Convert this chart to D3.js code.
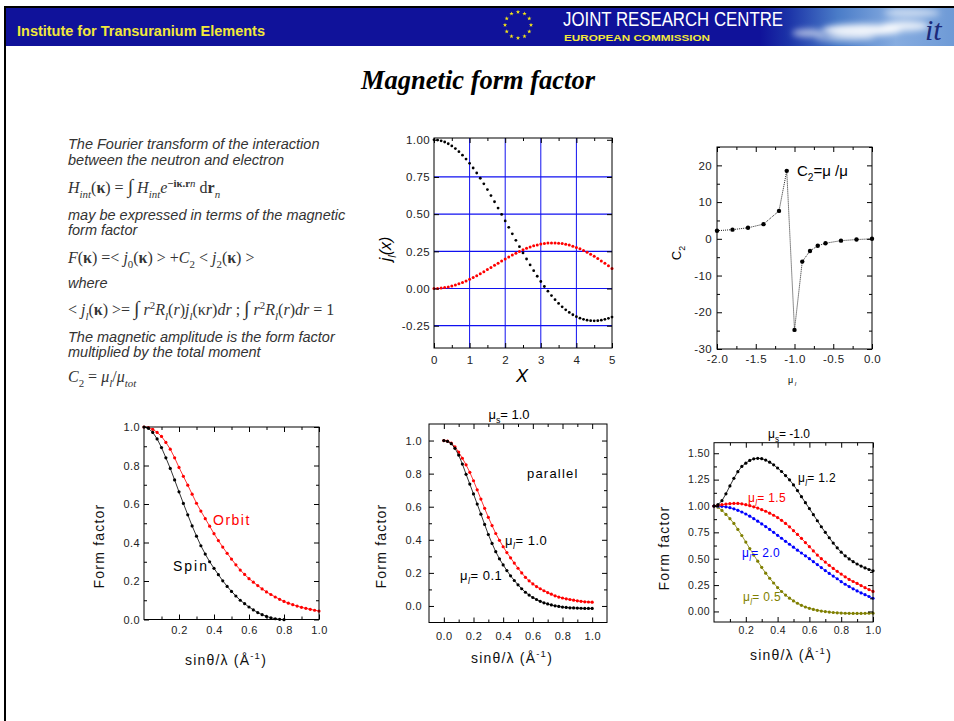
<!DOCTYPE html>
<html>
<head>
<meta charset="utf-8">
<script src="https://cdn.jsdelivr.net/npm/d3@7"></script>
<style>
  body { margin: 0; background: #fff; }
  #slide { width: 954px; height: 721px; }
</style>
</head>
<body>
<div id="slide"></div>
<script>
// ---- data ----

// top middle: spherical Bessel functions j0, j2
const X_J = [0,0.1,0.2,0.3,0.4,0.5,0.6,0.7,0.8,0.9,1.0,1.1,1.2,1.3,1.4,1.5,1.6,1.7,1.8,1.9,2.0,2.1,2.2,2.3,2.4,2.5,2.6,2.7,2.8,2.9,3.0,3.1,3.2,3.3,3.4,3.5,3.6,3.7,3.8,3.9,4.0,4.1,4.2,4.3,4.4,4.5,4.6,4.7,4.8,4.9,5.0];
const J0 = [1.0000,0.9983,0.9933,0.9851,0.9735,0.9589,0.9411,0.9203,0.8967,0.8704,0.8415,0.8102,0.7767,0.7412,0.7039,0.6650,0.6247,0.5833,0.5410,0.4981,0.4546,0.4111,0.3675,0.3242,0.2814,0.2394,0.1983,0.1583,0.1196,0.0825,0.0470,0.0134,-0.0182,-0.0478,-0.0752,-0.1002,-0.1229,-0.1432,-0.1610,-0.1764,-0.1892,-0.1996,-0.2075,-0.2131,-0.2163,-0.2172,-0.2160,-0.2127,-0.2075,-0.2005,-0.1918];
const J2 = [0,0.0007,0.0027,0.0060,0.0106,0.0164,0.0234,0.0315,0.0408,0.0510,0.0620,0.0739,0.0865,0.0997,0.1133,0.1273,0.1416,0.1559,0.1703,0.1845,0.1985,0.2120,0.2251,0.2375,0.2492,0.2601,0.2700,0.2789,0.2867,0.2933,0.2986,0.3027,0.3054,0.3067,0.3066,0.3050,0.3021,0.2977,0.2919,0.2848,0.2763,0.2666,0.2556,0.2435,0.2304,0.2163,0.2013,0.1855,0.1691,0.1522,0.1347];

// top right: C2 versus mu_l
const MU_L = [-2.0,-1.8,-1.6,-1.4,-1.2,-1.1,-1.0,-0.9,-0.8,-0.7,-0.6,-0.4,-0.2,0.0];
const C2 = [2.2,2.5,3.0,4.0,7.6,18.5,-24.8,-6.2,-3.3,-1.9,-1.2,-0.5,-0.2,0.0];

// bottom row: form factors vs sin(theta)/lambda
const S = [0,0.025,0.05,0.075,0.1,0.125,0.15,0.175,0.2,0.225,0.25,0.275,0.3,0.325,0.35,0.375,0.4,0.425,0.45,0.475,0.5,0.525,0.55,0.575,0.6,0.625,0.65,0.675,0.7,0.725,0.75,0.775,0.8,0.825,0.85,0.875,0.9,0.925,0.95,0.975,1.0];
const SPIN = [1.000,0.993,0.972,0.938,0.893,0.840,0.785,0.725,0.663,0.603,0.544,0.486,0.433,0.383,0.340,0.300,0.266,0.233,0.201,0.172,0.146,0.122,0.100,0.082,0.065,0.050,0.036,0.025,0.016,0.009,0.004,0.001,-0.001];
const ORBIT = [1.000,0.997,0.988,0.972,0.951,0.920,0.885,0.840,0.790,0.744,0.698,0.651,0.604,0.563,0.524,0.485,0.446,0.410,0.376,0.344,0.314,0.284,0.257,0.234,0.212,0.194,0.176,0.159,0.143,0.130,0.117,0.105,0.094,0.085,0.077,0.070,0.063,0.058,0.053,0.048,0.044];
const PAR_MU01 = [1.000,0.995,0.981,0.953,0.912,0.858,0.796,0.737,0.677,0.616,0.555,0.493,0.432,0.378,0.328,0.285,0.248,0.214,0.182,0.154,0.128,0.104,0.083,0.066,0.051,0.039,0.028,0.019,0.012,0.006,0.001,-0.003,-0.007,-0.009,-0.011,-0.012,-0.013,-0.014,-0.015,-0.015,-0.015];
const PAR_MU10 = [1.000,0.996,0.985,0.962,0.930,0.893,0.853,0.808,0.757,0.702,0.646,0.590,0.536,0.486,0.438,0.397,0.358,0.323,0.291,0.259,0.228,0.200,0.173,0.152,0.133,0.117,0.104,0.092,0.081,0.071,0.061,0.054,0.048,0.043,0.039,0.035,0.031,0.028,0.025,0.024,0.023];
const ANTI_MU12 = [1.000,1.013,1.050,1.115,1.190,1.262,1.325,1.375,1.406,1.432,1.447,1.452,1.449,1.435,1.415,1.390,1.360,1.327,1.288,1.248,1.200,1.146,1.088,1.031,0.975,0.918,0.860,0.803,0.750,0.699,0.648,0.603,0.562,0.527,0.498,0.472,0.450,0.430,0.413,0.398,0.386];
const ANTI_MU15 = [1.000,1.006,1.012,1.018,1.022,1.024,1.024,1.020,1.012,1.003,0.992,0.980,0.965,0.950,0.932,0.912,0.890,0.864,0.835,0.802,0.766,0.730,0.693,0.653,0.614,0.574,0.535,0.500,0.468,0.437,0.408,0.380,0.354,0.328,0.304,0.284,0.266,0.245,0.225,0.207,0.190];
const ANTI_MU20 = [1.000,0.999,0.997,0.992,0.984,0.973,0.959,0.943,0.924,0.903,0.880,0.856,0.830,0.805,0.778,0.750,0.722,0.694,0.665,0.637,0.609,0.581,0.554,0.527,0.500,0.472,0.444,0.416,0.388,0.361,0.335,0.310,0.282,0.258,0.236,0.215,0.195,0.176,0.159,0.142,0.125];
const ANTI_MU05 = [1.000,0.988,0.958,0.920,0.880,0.835,0.778,0.720,0.658,0.596,0.535,0.477,0.418,0.363,0.315,0.270,0.226,0.189,0.155,0.126,0.100,0.078,0.058,0.042,0.030,0.019,0.011,0.004,-0.001,-0.006,-0.010,-0.013,-0.015,-0.017,-0.018,-0.019,-0.019,-0.019,-0.018,-0.017,-0.016];

// tick values
const TICKS_J_X = [0,1,2,3,4,5];
const TICKS_J_XMINOR = [0.5,1.5,2.5,3.5,4.5];
const TICKS_J_Y = [-0.25,0,0.25,0.5,0.75,1.0];
const TICKS_C2_X = [-2.0,-1.5,-1.0,-0.5,0.0];
const TICKS_C2_XMINOR = [-1.75,-1.25,-0.75,-0.25];
const TICKS_C2_Y = [-30,-20,-10,0,10,20];
const TICKS_C2_YMINOR = [-25,-15,-5,5,15,25];
const TICKS_FF_X = [0.2,0.4,0.6,0.8,1.0];
const TICKS_FF_XMINOR = [0.1,0.3,0.5,0.7,0.9];
const TICKS_FF_Y = [0,0.2,0.4,0.6,0.8,1.0];
const TICKS_FF_YMINOR = [0.1,0.3,0.5,0.7,0.9];
const TICKS_PAR_X = [0,0.2,0.4,0.6,0.8,1.0];
const TICKS_PAR_XMINOR = [0.1,0.3,0.5,0.7,0.9];
const TICKS_PAR_YMINOR = [0.1,0.3,0.5,0.7,0.9];
const TICKS_ANTI_Y = [0,0.25,0.5,0.75,1.0,1.25,1.5];
const TICKS_ANTI_YMINOR = [0.125,0.375,0.625,0.875,1.125,1.375];

const SANS = "'Liberation Sans', Arial, sans-serif";
const SERIF = "'Liberation Serif', 'Times New Roman', serif";

// plain hyphen minus like the original plotting program
const fmt = spec => d => d3.format(spec)(d).replace("\u2212", "-");

const svg = d3.select("#slide").append("svg")
    .attr("width", 954)
    .attr("height", 721);

// text with sub / superscripts
function rich(parent, x, y, parts, base) {
    const fs = base.size;
    const t = parent.append("text")
        .attr("x", x).attr("y", y)
        .style("font-family", base.family || SANS)
        .style("font-size", fs + "px")
        .style("fill", base.color || "#000");
    if (base.italic) t.style("font-style", "italic");
    if (base.bold) t.style("font-weight", "bold");
    if (base.anchor) t.attr("text-anchor", base.anchor);
    if (base.spacing) t.style("letter-spacing", base.spacing + "px");
    if (base.rotate) t.attr("transform", `rotate(-90,${x},${y})`);
    let cur = 0;
    parts.forEach(p => {
        if (typeof p === "string") p = {t: p};
        const shift = p.sub ? fs * 0.3 : p.sup ? -fs * 0.4 : 0;
        const ts = t.append("tspan").attr("dy", shift - cur).text(p.t);
        cur = shift;
        if (p.sub || p.sup) ts.style("font-size", (fs * 0.68) + "px");
        if (p.i) ts.style("font-style", "italic");
        if (p.n) ts.style("font-style", "normal");
        if (p.b) ts.style("font-weight", "bold");
        if (p.big) ts.style("font-size", (fs * 1.25) + "px");
    });
    return t;
}

// ---- header ----
const defs = svg.append("defs");
const sky = defs.append("linearGradient").attr("id", "sky")
    .attr("x1", "0%").attr("x2", "100%").attr("y1", "0%").attr("y2", "0%");
[[0, "#10129a"], [0.15, "#1c34a8"], [0.4, "#4a7cc8"], [0.7, "#86ace0"], [1, "#6e9ad6"]]
    .forEach(s => sky.append("stop").attr("offset", s[0]).attr("stop-color", s[1]));
defs.append("filter").attr("id", "blur").append("feGaussianBlur").attr("stdDeviation", 3);

svg.append("rect").attr("x", 5).attr("y", 8).attr("width", 949).attr("height", 38).attr("fill", "#10129a");
svg.append("rect").attr("x", 760).attr("y", 8).attr("width", 194).attr("height", 38).attr("fill", "url(#sky)");
const clouds = svg.append("g").attr("filter", "url(#blur)");
[[808, 33, 16, 4, 0.6], [862, 30, 40, 6, 0.9], [905, 26, 24, 5, 0.8], [912, 13, 28, 4, 0.6], [845, 38, 30, 3, 0.6]]
    .forEach(c => clouds.append("ellipse").attr("cx", c[0]).attr("cy", c[1])
        .attr("rx", c[2]).attr("ry", c[3]).attr("fill", "#ffffff").attr("opacity", c[4]));
svg.append("rect").attr("x", 4).attr("y", 6).attr("width", 950).attr("height", 2).attr("fill", "#000");
svg.append("rect").attr("x", 4).attr("y", 6).attr("width", 2).attr("height", 715).attr("fill", "#000");

svg.append("text").attr("x", 17).attr("y", 36)
    .attr("textLength", 248).attr("lengthAdjust", "spacingAndGlyphs")
    .style("font-family", SANS).style("font-size", "14.5px").style("font-weight", "bold")
    .style("fill", "#f2e83a").text("Institute for Transuranium Elements");

// EU star ring
const star = d3.symbol().type(d3.symbolStar).size(6);
d3.range(12).forEach(i => {
    const a = i * Math.PI / 6;
    svg.append("path").attr("d", star)
        .attr("transform", `translate(${518 + 13 * Math.sin(a)},${25 - 13 * Math.cos(a)})`)
        .attr("fill", "#f5e616");
});

svg.append("text").attr("x", 563).attr("y", 26)
    .attr("textLength", 220).attr("lengthAdjust", "spacingAndGlyphs")
    .style("font-family", SANS).style("font-size", "20px")
    .style("fill", "#ffffff").text("JOINT RESEARCH CENTRE");
svg.append("text").attr("x", 564).attr("y", 41)
    .attr("textLength", 146).attr("lengthAdjust", "spacingAndGlyphs")
    .style("font-family", SANS).style("font-size", "9.5px").style("font-weight", "bold")
    .style("fill", "#f2e83a").text("EUROPEAN COMMISSION");
svg.append("text").attr("x", 925).attr("y", 40)
    .style("font-family", SERIF).style("font-size", "30px").style("font-style", "italic")
    .style("fill", "#1b2a7a").text("it");

// ---- title ----
svg.append("text").attr("x", 478).attr("y", 89).attr("text-anchor", "middle")
    .style("font-family", SERIF).style("font-size", "26.5px")
    .style("font-weight", "bold").style("font-style", "italic")
    .text("Magnetic form factor");

// ---- explanatory text ----
const txt = svg.append("g");
const prose = {size: 14.5, italic: true, color: "#333"};
const math = {size: 16, family: SERIF, color: "#333"};
rich(txt, 68, 149, ["The Fourier transform of the interaction"], prose);
rich(txt, 68, 165, ["between the neutron and electron"], prose);
rich(txt, 68, 193, [{t: "H", i: 1}, {t: "int", i: 1, sub: 1}, "(", {t: "κ", b: 1}, ") = ", {t: "∫", big: 1}, " ",
    {t: "H", i: 1}, {t: "int", i: 1, sub: 1}, {t: "e", i: 1}, {t: "−iκ.r", b: 1, sup: 1}, {t: "n", sup: 1, i: 1},
    " d", {t: "r", b: 1}, {t: "n", i: 1, sub: 1}], math);
rich(txt, 68, 220, ["may be expressed in terms of the magnetic"], prose);
rich(txt, 68, 235, ["form factor"], prose);
rich(txt, 68, 263, [{t: "F", i: 1}, "(", {t: "κ", b: 1}, ") =< ", {t: "j", i: 1}, {t: "0", sub: 1}, "(", {t: "κ", b: 1},
    ") > +", {t: "C", i: 1}, {t: "2", sub: 1}, " < ", {t: "j", i: 1}, {t: "2", sub: 1}, "(", {t: "κ", b: 1}, ") >"], math);
rich(txt, 68, 288, ["where"], prose);
rich(txt, 68, 315, ["< ", {t: "j", i: 1}, {t: "l", i: 1, sub: 1}, "(", {t: "κ", b: 1}, ") >= ", {t: "∫", big: 1}, " ", {t: "r", i: 1}, {t: "2", sup: 1},
    {t: "R", i: 1}, {t: "l", i: 1, sub: 1}, "(", {t: "r", i: 1}, ")", {t: "j", i: 1}, {t: "l", i: 1, sub: 1}, "(κ", {t: "r", i: 1},
    ")", {t: "dr", i: 1}, " ;  ", {t: "∫", big: 1}, " ", {t: "r", i: 1}, {t: "2", sup: 1}, {t: "R", i: 1}, {t: "l", i: 1, sub: 1}, "(", {t: "r", i: 1},
    ")", {t: "dr", i: 1}, " = 1"], math);
rich(txt, 68, 342, ["The magnetic amplitude is the form factor"], prose);
rich(txt, 68, 357, ["multiplied by the total moment"], prose);
rich(txt, 68, 382, [{t: "C", i: 1}, {t: "2", sub: 1}, " = ", {t: "μ", i: 1}, {t: "l", i: 1, sub: 1}, "/", {t: "μ", i: 1},
    {t: "tot", i: 1, sub: 1}], math);

// ---- generic plot panel ----
function panel(cfg) {
    const x = d3.scaleLinear().domain(cfg.xDomain).range([cfg.left, cfg.right]);
    const y = d3.scaleLinear().domain(cfg.yDomain).range([cfg.bottom, cfg.top]);
    const g = svg.append("g");
    const fs = cfg.tickFont || 11;

    if (cfg.gridX) {
        g.selectAll(".gx").data(cfg.gridX).enter().append("line")
            .attr("x1", d => x(d)).attr("x2", d => x(d))
            .attr("y1", cfg.top).attr("y2", cfg.bottom)
            .attr("stroke", "#1010f0").attr("stroke-width", 1);
        g.selectAll(".gy").data(cfg.gridY).enter().append("line")
            .attr("x1", cfg.left).attr("x2", cfg.right)
            .attr("y1", d => y(d)).attr("y2", d => y(d))
            .attr("stroke", "#1010f0").attr("stroke-width", 1.2);
    }

    cfg.series.forEach(s => {
        const pts = s.y.map((v, i) => [s.x[i], v]);
        if (s.line) {
            g.append("path").datum(pts)
                .attr("d", d3.line().x(d => x(d[0])).y(d => y(d[1])))
                .attr("fill", "none").attr("stroke", s.lineColor || s.color)
                .attr("stroke-width", s.lw || 0.8)
                .attr("stroke-dasharray", s.dash || null);
        }
        g.selectAll(null).data(pts).enter().append("circle")
            .attr("cx", d => x(d[0])).attr("cy", d => y(d[1]))
            .attr("r", s.r || 1.6).attr("fill", s.color);
    });

    g.append("rect").attr("x", cfg.left).attr("y", cfg.top)
        .attr("width", cfg.right - cfg.left).attr("height", cfg.bottom - cfg.top)
        .attr("fill", "none").attr("stroke", "#000").attr("stroke-width", 1);

    function ax(axis, tx, ty, values, size, f, pad) {
        const a = g.append("g").attr("transform", `translate(${tx},${ty})`)
            .call(axis.tickValues(values).tickSize(-size).tickPadding(pad).tickFormat(f));
        a.select(".domain").remove();
        a.selectAll("line").attr("stroke", "#000");
        a.selectAll("text").style("font-family", SANS).style("font-size", fs + "px")
            .style("fill", "#222").style("letter-spacing", (cfg.tickSpacing || 0.4) + "px");
        return a;
    }
    const none = () => "";
    ax(d3.axisBottom(x), 0, cfg.bottom, cfg.xTicks, 5, cfg.xFmt, cfg.xPad);
    ax(d3.axisTop(x), 0, cfg.top, cfg.xTicks, 5, none, 0);
    ax(d3.axisLeft(y), cfg.left, 0, cfg.yTicks, 5, cfg.yFmt, cfg.yPad);
    ax(d3.axisRight(y), cfg.right, 0, cfg.yTicks, 5, none, 0);
    if (cfg.xMinor) {
        ax(d3.axisBottom(x), 0, cfg.bottom, cfg.xMinor, 3, none, 0);
        ax(d3.axisTop(x), 0, cfg.top, cfg.xMinor, 3, none, 0);
    }
    if (cfg.yMinor) {
        ax(d3.axisLeft(y), cfg.left, 0, cfg.yMinor, 3, none, 0);
        ax(d3.axisRight(y), cfg.right, 0, cfg.yMinor, 3, none, 0);
    }
    return g;
}

// top middle: j_l(x)
panel({
    left: 434, right: 612, top: 138, bottom: 348,
    xDomain: [0, 5], yDomain: [-0.4, 1.012],
    xTicks: TICKS_J_X, xMinor: TICKS_J_XMINOR, yTicks: TICKS_J_Y,
    xFmt: fmt("d"), yFmt: fmt(".2f"), xPad: 8, yPad: 4, tickFont: 11.5,
    gridX: [1, 2, 3, 4], gridY: [-0.25, 0, 0.25, 0.5, 0.75],
    series: [
        {x: X_J, y: J2, color: "#ff0000", r: 1.5},
        {x: X_J, y: J0, color: "#000", r: 1.4}
    ]
});
rich(svg, 391, 249, [{t: "j"}, {t: "l", sub: 1}, "(x)"], {size: 16, italic: true, anchor: "middle", rotate: true});
svg.append("text").attr("x", 522).attr("y", 382).attr("text-anchor", "middle")
    .style("font-family", SANS).style("font-size", "18px").style("font-style", "italic").text("X");

// top right: C2
panel({
    left: 717, right: 872, top: 147, bottom: 349,
    xDomain: [-2, 0], yDomain: [-30, 25],
    xTicks: TICKS_C2_X, xMinor: TICKS_C2_XMINOR, yTicks: TICKS_C2_Y, yMinor: TICKS_C2_YMINOR,
    xFmt: fmt(".1f"), yFmt: fmt("d"), xPad: 6, yPad: 5, tickFont: 11.5,
    series: [{x: MU_L, y: C2, color: "#000", line: true, lineColor: "#222", dash: "1,1", lw: 1, r: 2.2}]
});
rich(svg, 797, 176, ["C", {t: "2", sub: 1}, "=μ /μ"], {size: 15});
rich(svg, 681, 253, ["C", {t: "2", sub: 1}], {size: 13, anchor: "middle", rotate: true});
rich(svg, 792, 383, ["μ", {t: " l", sub: 1, i: 1}], {size: 9, anchor: "middle"});

// bottom rows shared styling
const axisTitle = {size: 14, spacing: 1.2, anchor: "middle", color: "#111"};
function xTitle(cx, y) {
    rich(svg, cx, y, ["sinθ/λ  (Å", {t: "-1", sup: 1}, ")"], axisTitle);
}
function yTitle(x, cy) {
    rich(svg, x, cy, ["Form factor"], Object.assign({rotate: true}, axisTitle));
}

// bottom left: spin / orbit
panel({
    left: 144, right: 319, top: 427, bottom: 619.5,
    xDomain: [0, 1], yDomain: [0, 1],
    xTicks: TICKS_FF_X, xMinor: TICKS_FF_XMINOR, yTicks: TICKS_FF_Y, yMinor: TICKS_FF_YMINOR,
    xFmt: fmt(".1f"), yFmt: fmt(".1f"), xPad: 7, yPad: 4,
    series: [
        {x: S, y: ORBIT, color: "#ff0000", line: true},
        {x: S, y: SPIN, color: "#000", line: true}
    ]
});
yTitle(104, 546);
xTitle(226, 665);
rich(svg, 213, 525, ["Orbit"], {size: 14, spacing: 1.5, color: "#ff0000"});
rich(svg, 173, 571, ["Spin"], {size: 14, spacing: 2, color: "#000"});

// bottom middle: parallel
panel({
    left: 429, right: 607, top: 424, bottom: 622.5,
    xDomain: [-0.1, 1.1], yDomain: [-0.1, 1.1],
    xTicks: TICKS_PAR_X, xMinor: TICKS_PAR_XMINOR, yTicks: TICKS_FF_Y, yMinor: TICKS_PAR_YMINOR,
    xFmt: fmt(".1f"), yFmt: fmt(".1f"), xPad: 10, yPad: 7,
    series: [
        {x: S, y: PAR_MU10, color: "#ff0000", line: true},
        {x: S, y: PAR_MU01, color: "#000", line: true}
    ]
});
yTitle(386, 546);
xTitle(512, 663);
rich(svg, 509, 419, ["μ", {t: "s", sub: 1}, "= 1.0"], {size: 13, anchor: "middle"});
rich(svg, 527, 478, ["parallel"], {size: 13, spacing: 1.2});
rich(svg, 505, 545, ["μ", {t: "l", sub: 1, i: 1}, "= 1.0"], {size: 13, spacing: 0.5});
rich(svg, 460, 580, ["μ", {t: "l", sub: 1, i: 1}, "= 0.1"], {size: 13, spacing: 0.5});

// bottom right: antiparallel
panel({
    left: 714, right: 873, top: 442.7, bottom: 622,
    xDomain: [0, 1], yDomain: [-0.1, 1.6],
    xTicks: TICKS_FF_X, xMinor: TICKS_FF_XMINOR, yTicks: TICKS_ANTI_Y, yMinor: TICKS_ANTI_YMINOR,
    xFmt: fmt(".1f"), yFmt: fmt(".2f"), xPad: 5, yPad: 4, tickFont: 10.5,
    series: [
        {x: S, y: ANTI_MU05, color: "#7f7f00", line: true},
        {x: S, y: ANTI_MU20, color: "#0000ff", line: true},
        {x: S, y: ANTI_MU15, color: "#ff0000", line: true},
        {x: S, y: ANTI_MU12, color: "#000", line: true}
    ]
});
yTitle(669, 548);
xTitle(791, 660);
rich(svg, 789, 438, ["μ", {t: "s", sub: 1}, "= -1.0"], {size: 12, anchor: "middle"});
rich(svg, 798, 482, ["μ", {t: "l", sub: 1, i: 1}, "= 1.2"], {size: 12, spacing: 0.3, color: "#000"});
rich(svg, 748, 502, ["μ", {t: "l", sub: 1, i: 1}, "= 1.5"], {size: 12, spacing: 0.3, color: "#ff0000"});
rich(svg, 742, 557, ["μ", {t: "l", sub: 1, i: 1}, "= 2.0"], {size: 12, spacing: 0.3, color: "#0000ff"});
rich(svg, 743, 601, ["μ", {t: "l", sub: 1, i: 1}, "= 0.5"], {size: 12, spacing: 0.3, color: "#7f7f00"});
</script>
</body>
</html>
